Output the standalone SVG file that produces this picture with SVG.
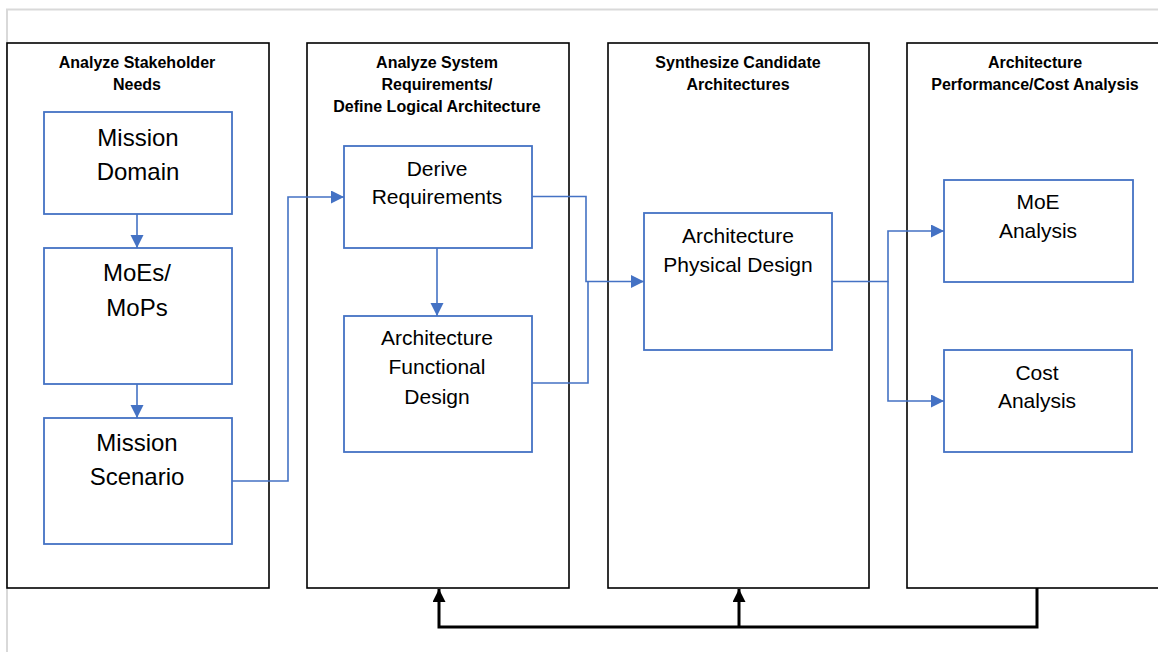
<svg xmlns="http://www.w3.org/2000/svg" width="1158" height="652" viewBox="0 0 1158 652">
  <style>
    .frame { fill: none; stroke: #d9d9d9; stroke-width: 2; }
    .col { fill: #ffffff; stroke: #000000; stroke-width: 1.6; }
    .node { fill: #ffffff; stroke: #4472C4; stroke-width: 1.8; }
    .title { font-family: "Liberation Sans", Arial, sans-serif; font-weight: bold; font-size: 16px; fill: #000; text-anchor: middle; }
    .big { font-family: "Liberation Sans", Arial, sans-serif; font-size: 24px; fill: #000; text-anchor: middle; }
    .lbl { font-family: "Liberation Sans", Arial, sans-serif; font-size: 21px; fill: #000; text-anchor: middle; }
    .flow { fill: none; stroke: #4472C4; stroke-width: 1.6; }
    .fb { fill: none; stroke: #000; stroke-width: 3; }
  </style>
  <defs>
    <marker id="blueArrow" markerUnits="userSpaceOnUse" markerWidth="14" markerHeight="14" refX="13" refY="6.5" orient="auto">
      <path d="M0,0 L13,6.5 L0,13 z" fill="#4472C4"/>
    </marker>
    <marker id="blackArrow" markerUnits="userSpaceOnUse" markerWidth="14" markerHeight="14" refX="13" refY="6.5" orient="auto">
      <path d="M0,0 L13,6.5 L0,13 z" fill="#000"/>
    </marker>
  </defs>
  <rect width="1158" height="652" fill="#ffffff"/>
  <path class="frame" d="M7,652 V9.5 H1158"/>

  <g id="col-stakeholder">
    <rect class="col" x="7" y="43" width="262" height="545"/>
    <text class="title" x="137" y="68">Analyze Stakeholder</text>
    <text class="title" x="137" y="90">Needs</text>
  </g>
  <g id="col-requirements">
    <rect class="col" x="307" y="43" width="262" height="545"/>
    <text class="title" x="437" y="68">Analyze System</text>
    <text class="title" x="437" y="90">Requirements/</text>
    <text class="title" x="437" y="112">Define Logical Architecture</text>
  </g>
  <g id="col-synthesize">
    <rect class="col" x="608" y="43" width="261" height="545"/>
    <text class="title" x="738" y="68">Synthesize Candidate</text>
    <text class="title" x="738" y="90">Architectures</text>
  </g>
  <g id="col-analysis">
    <rect class="col" x="907" y="43" width="270" height="545"/>
    <text class="title" x="1035" y="68">Architecture</text>
    <text class="title" x="1035" y="90">Performance/Cost Analysis</text>
  </g>

  <g id="node-mission-domain">
    <rect class="node" x="44" y="112" width="188" height="102"/>
    <text class="big" x="138" y="146">Mission</text>
    <text class="big" x="138" y="180">Domain</text>
  </g>
  <g id="node-moes-mops">
    <rect class="node" x="44" y="248" width="188" height="136"/>
    <text class="big" x="137" y="281">MoEs/</text>
    <text class="big" x="137" y="316">MoPs</text>
  </g>
  <g id="node-mission-scenario">
    <rect class="node" x="44" y="418" width="188" height="126"/>
    <text class="big" x="137" y="451">Mission</text>
    <text class="big" x="137" y="485">Scenario</text>
  </g>
  <g id="node-derive-requirements">
    <rect class="node" x="344" y="146" width="188" height="102"/>
    <text class="lbl" x="437" y="176">Derive</text>
    <text class="lbl" x="437" y="204">Requirements</text>
  </g>
  <g id="node-functional-design">
    <rect class="node" x="344" y="316" width="188" height="136"/>
    <text class="lbl" x="437" y="345">Architecture</text>
    <text class="lbl" x="437" y="374">Functional</text>
    <text class="lbl" x="437" y="404">Design</text>
  </g>
  <g id="node-physical-design">
    <rect class="node" x="644" y="213" width="188" height="137"/>
    <text class="lbl" x="738" y="243">Architecture</text>
    <text class="lbl" x="738" y="272">Physical  Design</text>
  </g>
  <g id="node-moe-analysis">
    <rect class="node" x="944" y="180" width="189" height="102"/>
    <text class="lbl" x="1038" y="209">MoE</text>
    <text class="lbl" x="1038" y="238">Analysis</text>
  </g>
  <g id="node-cost-analysis">
    <rect class="node" x="944" y="350" width="188" height="102"/>
    <text class="lbl" x="1037" y="380">Cost</text>
    <text class="lbl" x="1037" y="408">Analysis</text>
  </g>

  <g id="connectors">
    <path class="flow" d="M137,214 V248" marker-end="url(#blueArrow)"/>
    <path class="flow" d="M137,384 V418" marker-end="url(#blueArrow)"/>
    <path class="flow" d="M232,481 H288 V197 H344" marker-end="url(#blueArrow)"/>
    <path class="flow" d="M437,248 V316" marker-end="url(#blueArrow)"/>
    <path class="flow" d="M532,196.5 H586 V281.5 H644" marker-end="url(#blueArrow)"/>
    <path class="flow" d="M532,383 H588 V281.5"/>
    <path class="flow" d="M832,281.5 H888 V231 H944" marker-end="url(#blueArrow)"/>
    <path class="flow" d="M888,281.5 V401 H944" marker-end="url(#blueArrow)"/>
    <path class="fb" d="M1037,588 V627 H439 V589" marker-end="url(#blackArrow)"/>
    <path class="fb" d="M739,627 V589" marker-end="url(#blackArrow)"/>
  </g>
</svg>
